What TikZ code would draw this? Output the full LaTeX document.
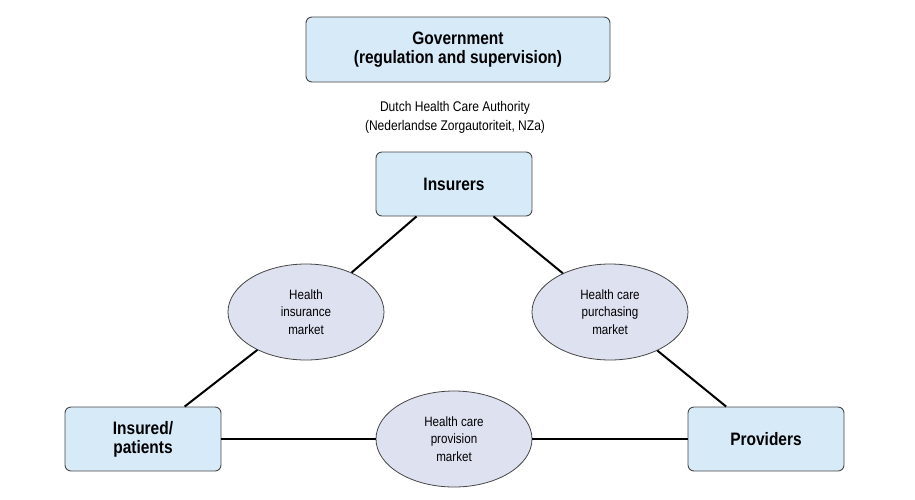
\documentclass[tikz,border=0pt]{standalone}
\usepackage{fontspec}
\setmainfont{Liberation Sans}[FakeStretch=0.86]
\usepackage{tikz}
\usetikzlibrary{shapes.geometric}
\definecolor{boxblue}{RGB}{214,234,248}
\definecolor{ovalgray}{RGB}{222,225,240}
\definecolor{edgegray}{RGB}{70,70,70}

\begin{document}
\begin{tikzpicture}[x=1pt,y=-1pt,
    actor/.style={draw=edgegray, line width=0.9, rounded corners=6, fill=boxblue, align=center,
        minimum width=156, minimum height=64, inner sep=2, font=\fontsize{18}{19}\selectfont\bfseries},
    market/.style={draw=edgegray, line width=0.8, ellipse, fill=ovalgray, align=center,
        minimum width=156, minimum height=96, inner sep=0, font=\fontsize{13.5}{17.5}\selectfont},
    link/.style={line width=2}]
    \useasboundingbox (0,0) rectangle (915,499);
           \node[actor, minimum width=304, minimum height=65](gov)  at (458,49.5) {Government\\(regulation and supervision)};
           \node[align=center, font=\fontsize{14}{19}\selectfont](nza)  at (455,117.5) {Dutch Health Care Authority\\(Nederlandse Zorgautoriteit, NZa)};
          \node[actor](insurers)  at (454,184) {Insurers};
      \node[actor](patients)  at (143,439) {Insured/\\patients};
      \node[actor](providers)  at (766,439) {Providers};
      \node[market](insmarket)  at (306,312) {Health\\insurance\\market};
      \node[market](purmarket)  at (610,312) {Health care\\purchasing\\market};
      \node[market](provmarket)  at (454,439) {Health care\\provision\\market};
      \draw[link] (insurers) -- (insmarket) -- (patients);
      \draw[link] (insurers) -- (purmarket) -- (providers);
      \draw[link] (patients) -- (provmarket) -- (providers);
          \end{tikzpicture}
\end{document}
